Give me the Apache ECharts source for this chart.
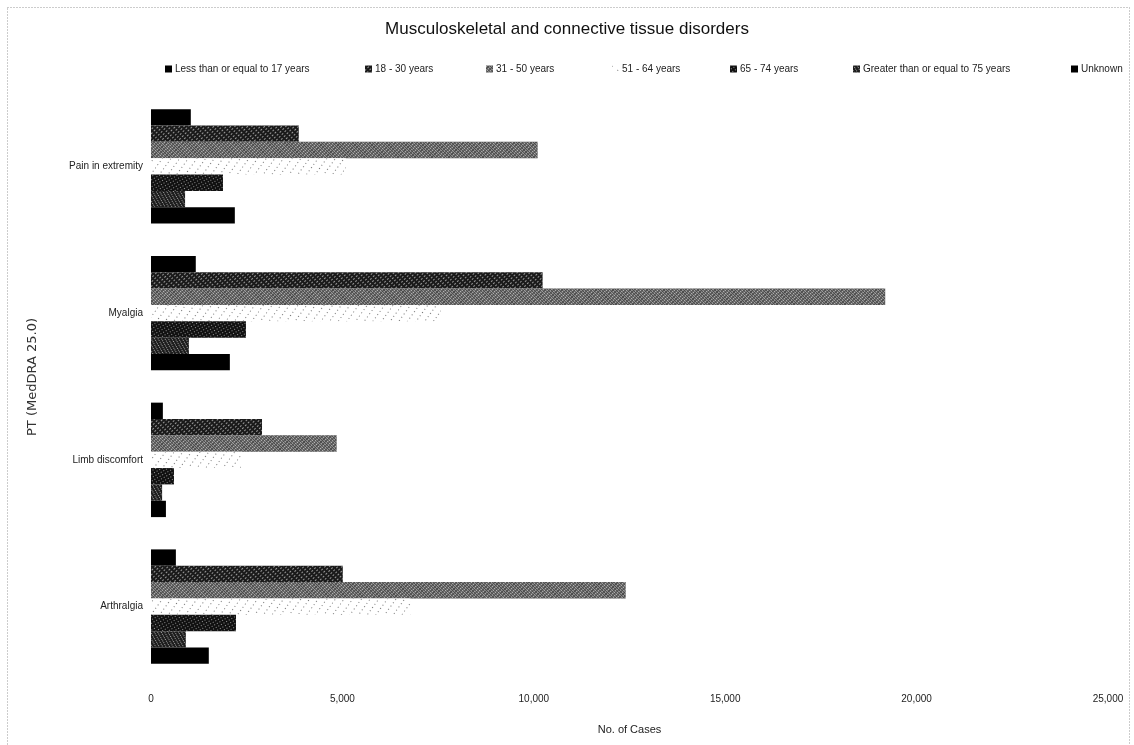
<!DOCTYPE html>
<html><head><meta charset="utf-8">
<script src="https://cdn.jsdelivr.net/npm/echarts@6/dist/echarts.min.js"></script>
<style>html,body{margin:0;padding:0;background:#fff}#c{width:1134px;height:745px}</style>
</head><body><div id="c"></div>
<script>
const categories = ['Pain in extremity', 'Myalgia', 'Limb discomfort', 'Arthralgia'];
const seriesNames = ['Less than or equal to 17 years', '18 - 30 years', '31 - 50 years', '51 - 64 years', '65 - 74 years', 'Greater than or equal to 75 years', 'Unknown'];
const age17 = [1040, 1170, 310, 650];
const age18_30 = [3860, 10230, 2900, 5010];
const age31_50 = [10100, 19180, 4850, 12400];
const age51_64 = [5090, 7570, 2350, 6780];
const age65_74 = [1880, 2480, 600, 2220];
const age75 = [890, 990, 290, 910];
const unknown = [2190, 2060, 390, 1510];
const xTicks = [0, 5000, 10000, 15000, 20000, 25000];

const values = [age17, age18_30, age31_50, age51_64, age65_74, age75, unknown];
const FONT = '"Liberation Sans", Arial, sans-serif';

const styles = [
  {color: '#000000'},
  {color: '#1a1a1a', decal: {symbol: 'rect', color: 'rgba(255,255,255,0.55)', dashArrayX: [2, 2], dashArrayY: [1, 2], rotation: -Math.PI / 4, symbolSize: 1}},
  {color: '#4a4a4a', decal: {symbol: 'rect', color: 'rgba(255,255,255,0.6)', dashArrayX: [2, 1], dashArrayY: [1, 1], rotation: Math.PI / 4, symbolSize: 1}},
  {color: '#ffffff', decal: {symbol: 'rect', color: 'rgba(60,60,60,0.7)', dashArrayX: [1, 6], dashArrayY: [1, 3], rotation: Math.PI / 5, symbolSize: 1}},
  {color: '#111111', decal: {symbol: 'rect', color: 'rgba(255,255,255,0.55)', dashArrayX: [1, 2], dashArrayY: [1, 2], rotation: Math.PI / 3, symbolSize: 1}},
  {color: '#1c1c1c', decal: {symbol: 'rect', color: 'rgba(255,255,255,0.6)', dashArrayX: [1, 2], dashArrayY: [1, 1], rotation: -Math.PI / 6, symbolSize: 1}},
  {color: '#000000'}
];

const legendLeft = [160, 360, 481, 607, 725, 848, 1066];

const chart = echarts.init(document.getElementById('c'));
chart.setOption({
  animation: false,
  backgroundColor: '#fff',
  title: {
    text: 'Musculoskeletal and connective tissue disorders',
    left: 'center', top: 16,
    textStyle: {fontFamily: FONT, fontSize: 17, fontWeight: 'normal', color: '#111'}
  },
  legend: seriesNames.map((n, i) => ({
    data: [n], left: legendLeft[i], top: 59,
    itemWidth: 7, itemHeight: 7, itemGap: 3, icon: 'rect',
    textStyle: {fontFamily: FONT, fontSize: 10, color: '#222', padding: [0, 0, 0, -2]}
  })),
  grid: {left: 151, right: 26, top: 93, bottom: 65, containLabel: false},
  xAxis: {
    type: 'value', min: 0, max: 25000, interval: 5000,
    name: 'No. of Cases', nameLocation: 'middle', nameGap: 44,
    nameTextStyle: {fontFamily: FONT, fontSize: 11, color: '#222'},
    axisLine: {show: false}, axisTick: {show: false}, splitLine: {show: false},
    axisLabel: {fontFamily: FONT, fontSize: 10, color: '#222', margin: 14,
      formatter: v => v.toLocaleString('en-US')}
  },
  yAxis: {
    type: 'category', data: categories, inverse: true,
    axisLine: {show: false}, axisTick: {show: false},
    axisLabel: {fontFamily: FONT, fontSize: 10, color: '#222', margin: 8}
  },
  series: seriesNames.map((n, i) => ({
    name: n, type: 'bar', data: values[i],
    barGap: '0%', barCategoryGap: '22%',
    itemStyle: styles[i]
  })),
  graphic: [{
    type: 'rect', shape: {x: 7.5, y: 7.5, width: 1122, height: 745},
    style: {fill: 'none', stroke: '#999', lineWidth: 1, lineDash: [1, 2]}, silent: true
  }, {
    type: 'text', x: 33, y: 377, rotation: Math.PI / 2,
    style: {text: 'PT (MedDRA 25.0)', fontFamily: '"DejaVu Sans", sans-serif', fontSize: 13,
      fill: '#333', textAlign: 'center', textVerticalAlign: 'middle'}
  }]
});
</script></body></html>
